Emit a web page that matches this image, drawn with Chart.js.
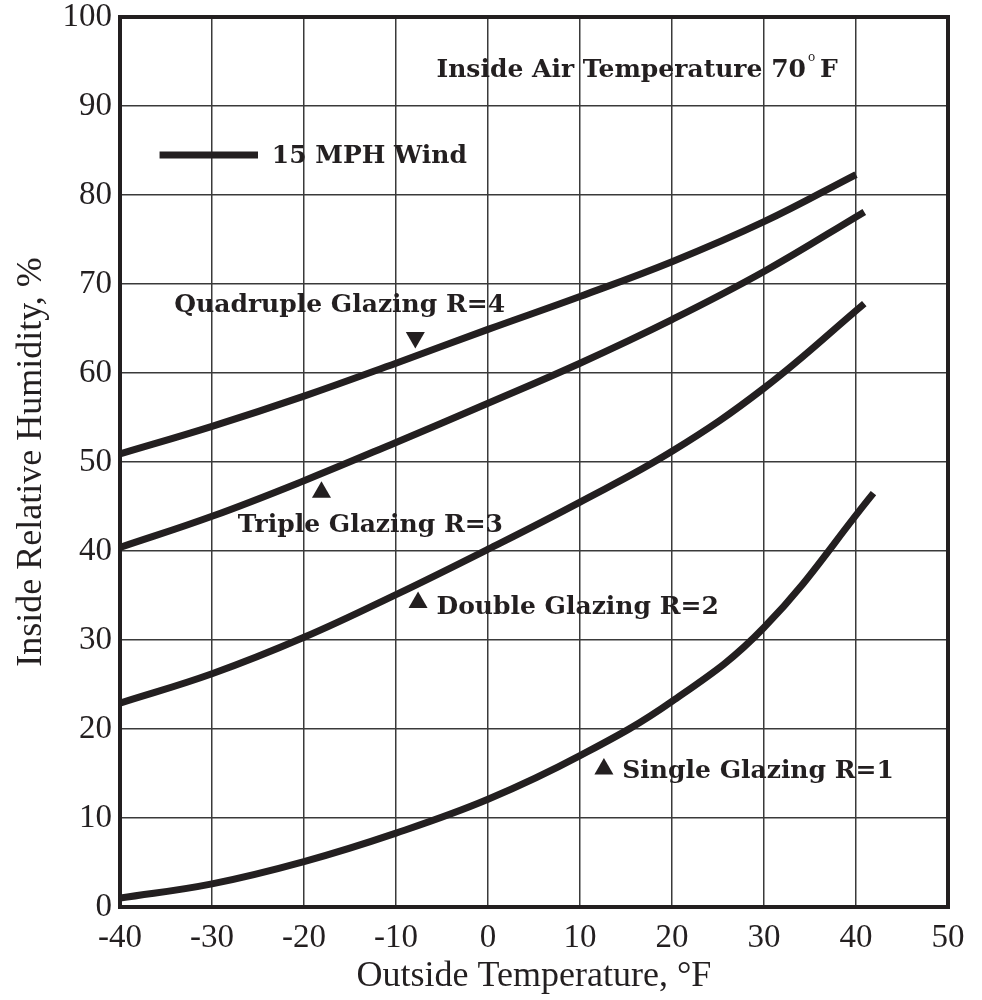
<!DOCTYPE html>
<html>
<head>
<meta charset="utf-8">
<script src="https://cdn.jsdelivr.net/npm/chart.js@4"></script>
<style>
  html, body { margin: 0; padding: 0; background: #fff; }
  canvas { display: block; }
</style>
</head>
<body>
<canvas id="chart" width="982" height="1000"></canvas>
<script>
// outside temperature (F) and inside RH (%) per glazing type
const quadX = [-40, -30, -20, -10, 0, 10, 20, 30, 40];
const quadY = [50.9, 54.0, 57.4, 61.1, 64.9, 68.6, 72.5, 77.0, 82.3];
const tripleX = [-40, -30, -20, -10, 0, 10, 20, 30, 40.9];
const tripleY = [40.4, 43.9, 47.9, 52.2, 56.6, 61.1, 66.0, 71.4, 78.1];
const doubleX = [-40, -30, -20, -10, 0, 10, 20, 30, 40.9];
const doubleY = [22.9, 26.2, 30.3, 35.1, 40.2, 45.5, 51.2, 58.3, 67.8];
const singleX = [-40, -30, -20, -10, 0, 10, 20, 30, 41.9];
const singleY = [1.0, 2.6, 5.1, 8.3, 12.1, 17.0, 23.1, 31.4, 46.5];

// little arrow heads pointing at the curves
const markerX = [-7.9, -18.1, -7.6, 12.6];
const markerY = [64.0, 46.6, 34.2, 15.5];
const markerRot = [180, 0, 0, 0];

const xTicks = [-40, -30, -20, -10, 0, 10, 20, 30, 40, 50];
const yTicks = [0, 10, 20, 30, 40, 50, 60, 70, 80, 90, 100];

const INK = '#231f20';
const SERIF = '"Liberation Serif", "DejaVu Serif", serif';
const BOLD = 'bold 25px "DejaVu Serif", serif';

const pts = (xs, ys) => xs.map((x, i) => ({ x, y: ys[i] }));

const curve = (label, xs, ys) => ({
  label,
  data: pts(xs, ys),
  borderColor: INK,
  borderWidth: 7,
  borderCapStyle: 'butt',
  pointRadius: 0,
  fill: false,
  tension: 0.4,
});

// labels placed in data units
const notes = [
  { text: 'Quadruple Glazing R=4', x: -34.1, y: 67.6 },
  { text: 'Triple Glazing R=3', x: -27.2, y: 42.9 },
  { text: 'Double Glazing R=2', x: -5.6, y: 33.7 },
  { text: 'Single Glazing R=1', x: 14.6, y: 15.2 },
];

const extras = {
  id: 'extras',
  beforeDatasetsDraw(chart) {
    const { ctx, chartArea: a } = chart;
    ctx.save();
    ctx.strokeStyle = INK;
    ctx.lineWidth = 4;
    ctx.strokeRect(a.left, a.top, a.right - a.left, a.bottom - a.top);
    ctx.restore();
  },
  afterDatasetsDraw(chart) {
    const { ctx, scales } = chart;
    const px = v => scales.x.getPixelForValue(v);
    const py = v => scales.y.getPixelForValue(v);
    ctx.save();
    ctx.fillStyle = INK;
    ctx.font = BOLD;
    ctx.textBaseline = 'middle';
    ctx.textAlign = 'left';
    notes.forEach(n => ctx.fillText(n.text, px(n.x), py(n.y)));

    // title note with small raised degree sign
    const t = 'Inside Air Temperature 70';
    const tx = px(-5.6), ty = py(94.0);
    ctx.fillText(t, tx, ty);
    const w = ctx.measureText(t).width;
    ctx.font = '12px "DejaVu Serif", serif';
    ctx.fillText('o', tx + w + 2, ty - 13);
    ctx.font = BOLD;
    ctx.fillText('F', tx + w + 14, ty);

    // legend
    ctx.strokeStyle = INK;
    ctx.lineWidth = 7;
    ctx.beginPath();
    ctx.moveTo(px(-35.7), py(84.5));
    ctx.lineTo(px(-25.0), py(84.5));
    ctx.stroke();
    ctx.fillText('15 MPH Wind', px(-23.5), py(84.3));
    ctx.restore();
  },
};

new Chart(document.getElementById('chart'), {
  type: 'line',
  data: {
    datasets: [
      curve('Quadruple Glazing R=4', quadX, quadY),
      curve('Triple Glazing R=3', tripleX, tripleY),
      curve('Double Glazing R=2', doubleX, doubleY),
      curve('Single Glazing R=1', singleX, singleY),
      {
        type: 'scatter',
        label: 'markers',
        data: pts(markerX, markerY),
        pointStyle: 'triangle',
        pointRadius: 11,
        rotation: markerRot,
        backgroundColor: INK,
        borderColor: INK,
        borderWidth: 0,
        showLine: false,
      },
    ],
  },
  options: {
    responsive: false,
    animation: false,
    layout: { padding: { top: 17, right: 34, left: 10, bottom: 0 } },
    plugins: {
      legend: { display: false },
      tooltip: { enabled: false },
    },
    scales: {
      x: {
        type: 'linear',
        min: -40,
        max: 50,
        afterBuildTicks: s => { s.ticks = xTicks.map(v => ({ value: v })); },
        afterFit: s => { s.height = 93; s.paddingLeft = 0; s.paddingRight = 0; },
        ticks: { color: INK, font: { family: SERIF, size: 33 }, padding: 12 },
        grid: { color: '#3a3a3a', lineWidth: 1.5, drawTicks: false },
        border: { display: false },
        title: {
          display: true,
          text: 'Outside Temperature, °F',
          color: INK,
          font: { family: SERIF, size: 36 },
          padding: { top: 0, bottom: 2 },
        },
      },
      y: {
        min: 0,
        max: 100,
        afterBuildTicks: s => { s.ticks = yTicks.map(v => ({ value: v })); },
        afterFit: s => { s.width = 110; s.paddingTop = 0; s.paddingBottom = 0; },
        ticks: { color: INK, font: { family: SERIF, size: 33 }, padding: 8 },
        grid: { color: '#3a3a3a', lineWidth: 1.5, drawTicks: false },
        border: { display: false },
        title: {
          display: true,
          text: 'Inside Relative Humidity, %',
          color: INK,
          font: { family: SERIF, size: 36 },
          padding: { top: 0, bottom: 0 },
        },
      },
    },
  },
  plugins: [extras],
});
</script>
</body>
</html>
